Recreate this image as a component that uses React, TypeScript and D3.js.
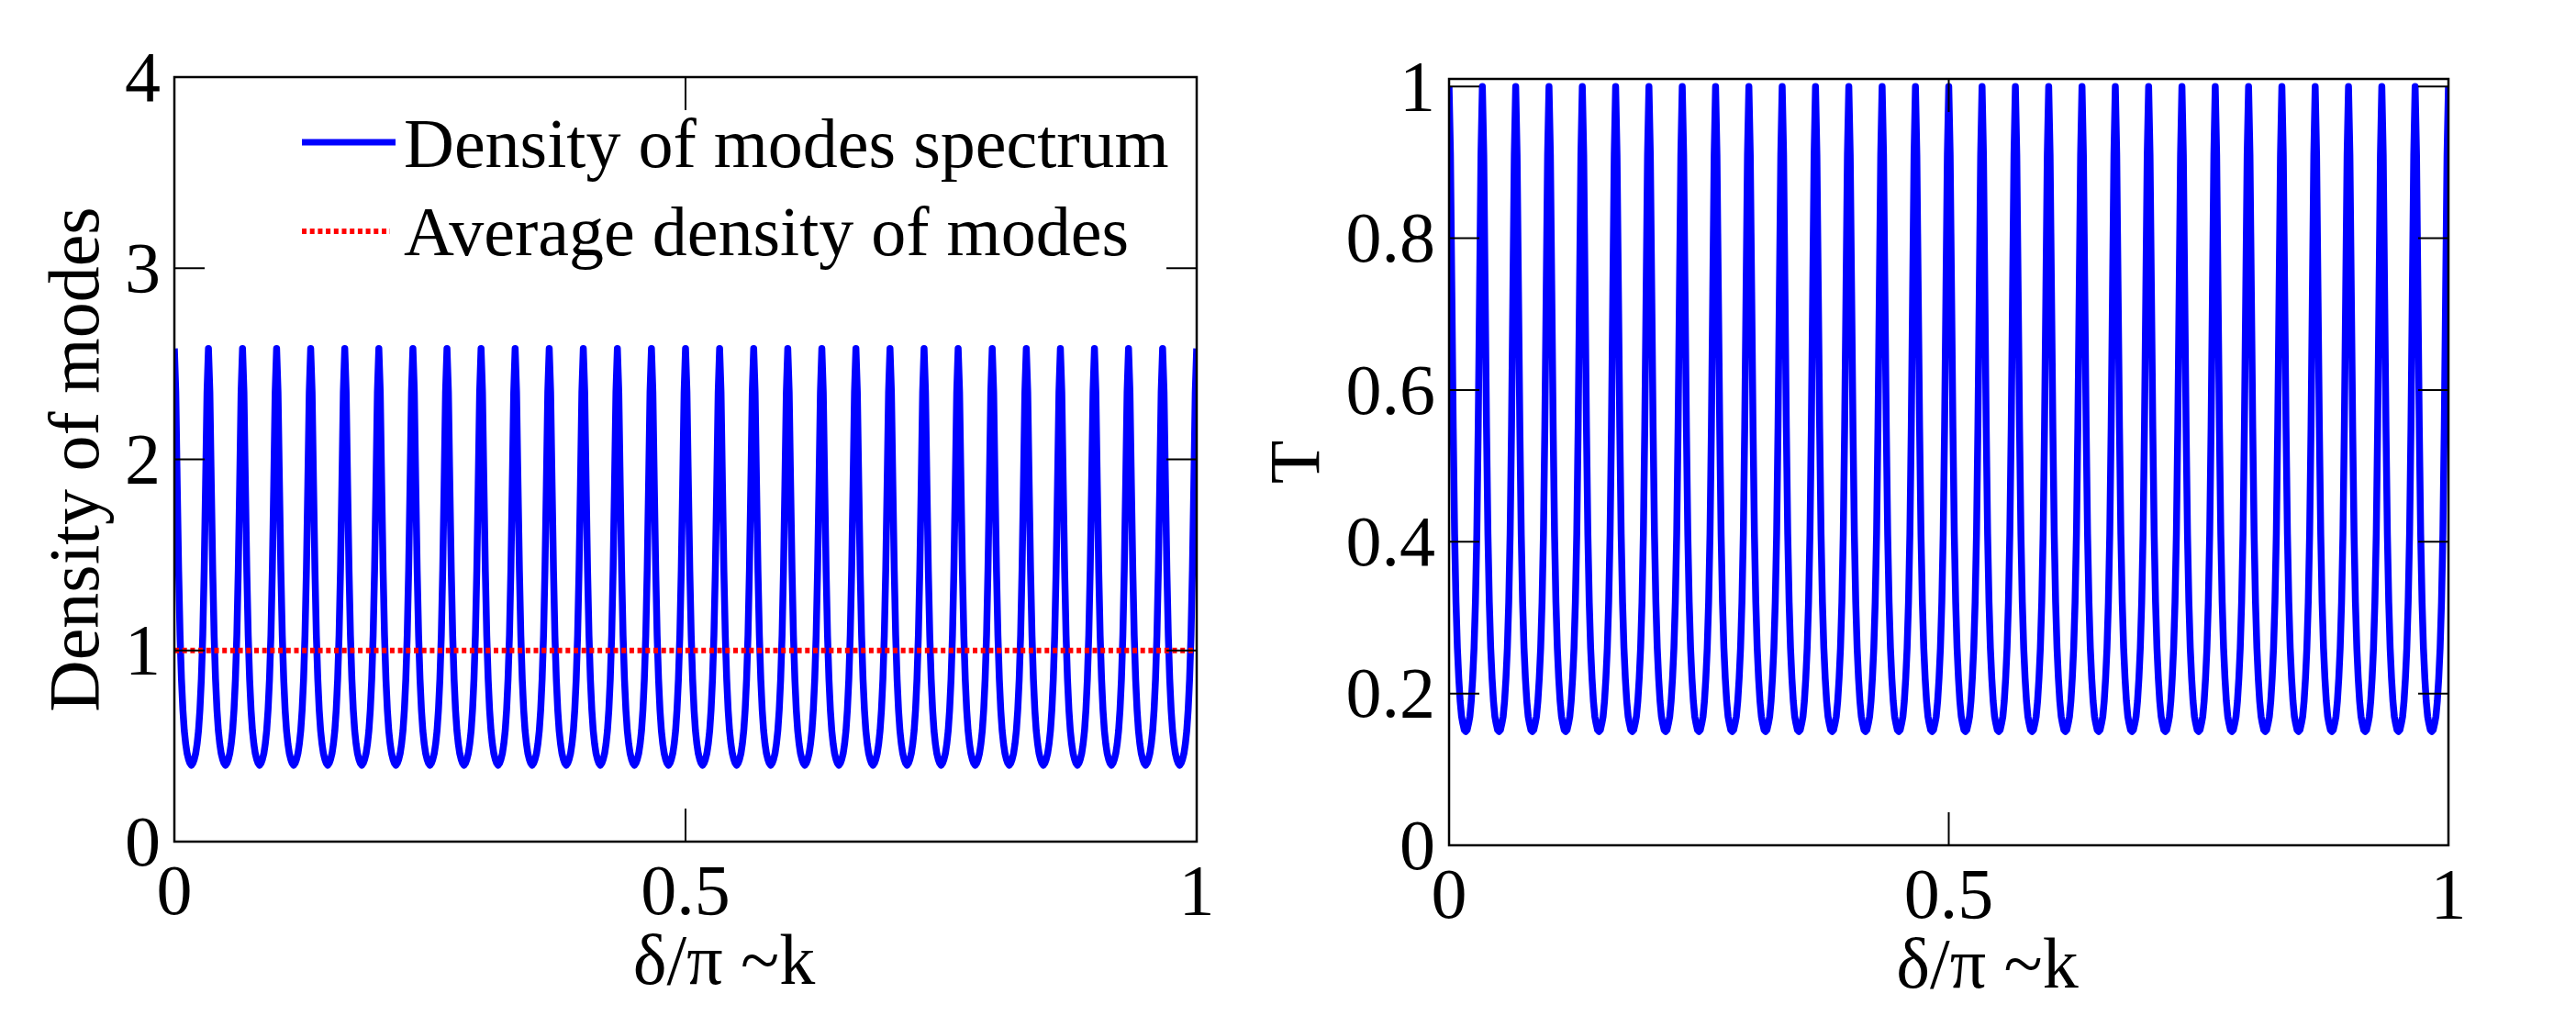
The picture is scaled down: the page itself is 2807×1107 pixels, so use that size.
import React, { useEffect, useRef } from 'react';
import * as d3 from 'd3';

// one period of each spectrum (peak first, 24 samples per period)
const periods = 30;
const densityProfile = [
  2.58, 2.35, 1.87, 1.42, 1.08, 0.85, 0.69, 0.58, 0.51, 0.46, 0.43, 0.41,
  0.40, 0.41, 0.43, 0.46, 0.51, 0.58, 0.69, 0.85, 1.08, 1.42, 1.87, 2.35,
];
const transmissionProfile = [
  1.0, 0.91, 0.73, 0.55, 0.41, 0.32, 0.26, 0.22, 0.19, 0.17, 0.16, 0.152,
  0.15, 0.152, 0.16, 0.17, 0.19, 0.22, 0.26, 0.32, 0.41, 0.55, 0.73, 0.91,
];
const averageDensity = [
  { x: 0, y: 1 },
  { x: 1, y: 1 },
];

const xTicks = [0, 0.5, 1];
const xTickLabels = ['0', '0.5', '1'];
const densityTicks = [0, 1, 2, 3, 4];
const densityTickLabels = ['0', '1', '2', '3', '4'];
const transmissionTicks = [0, 0.2, 0.4, 0.6, 0.8, 1];
const transmissionTickLabels = ['0', '0.2', '0.4', '0.6', '0.8', '1'];
const legendLabels = ['Density of modes spectrum', 'Average density of modes'];
const xLabel = 'δ/π ~k';

interface Pt {
  x: number;
  y: number;
}

const tile = (profile: number[]): Pt[] => {
  const pts: Pt[] = [];
  const n = profile.length;
  for (let k = 0; k < periods; k++) {
    profile.forEach((v, i) => pts.push({ x: (k + i / n) / periods, y: v }));
  }
  pts.push({ x: 1, y: profile[0] });
  return pts;
};

const FONT = '"Liberation Serif", "Times New Roman", serif';

const App: React.FC = () => {
  const svgRef = useRef<SVGSVGElement>(null);

  useEffect(() => {
    if (!svgRef.current) return;
    const svg = d3.select(svgRef.current);
    svg.selectAll('*').remove();

    const panels = [
      {
        id: 'dos',
        left: 190, right: 1304, top: 84, bottom: 917,
        yDomain: [0, 4],
        yTicks: densityTicks, yTickLabels: densityTickLabels,
        data: tile(densityProfile),
        yLabel: 'Density of modes', yLabelX: 107,
      },
      {
        id: 'trans',
        left: 1579, right: 2668, top: 86, bottom: 921,
        yDomain: [0, 1.01],
        yTicks: transmissionTicks, yTickLabels: transmissionTickLabels,
        data: tile(transmissionProfile),
        yLabel: 'T', yLabelX: 1437,
      },
    ];

    const defs = svg.append('defs');

    panels.forEach((p, pi) => {
      const x = d3.scaleLinear().domain([0, 1]).range([p.left, p.right]);
      const y = d3.scaleLinear().domain(p.yDomain).range([p.bottom, p.top]);
      const g = svg.append('g');

      defs.append('clipPath').attr('id', `clip-${p.id}`)
        .append('rect')
        .attr('x', p.left).attr('y', p.top)
        .attr('width', p.right - p.left).attr('height', p.bottom - p.top);

      const line = d3.line<Pt>().x(d => x(d.x)).y(d => y(d.y));

      const plot = g.append('g').attr('clip-path', `url(#clip-${p.id})`);

      plot.append('path')
        .datum(p.data)
        .attr('fill', 'none')
        .attr('stroke', '#0000ff')
        .attr('stroke-width', 7.5)
        .attr('stroke-linejoin', 'round')
        .attr('d', line);

      if (pi === 0) {
        plot.append('path')
          .datum(averageDensity)
          .attr('fill', 'none')
          .attr('stroke', '#ff0000')
          .attr('stroke-width', 6)
          .attr('stroke-dasharray', '5,3.7')
          .attr('d', line);
      }

      // box
      g.append('rect')
        .attr('x', p.left).attr('y', p.top)
        .attr('width', p.right - p.left).attr('height', p.bottom - p.top)
        .attr('fill', 'none')
        .attr('stroke', '#000')
        .attr('stroke-width', 2.5);

      // ticks, inward on all four sides
      p.yTicks.forEach(t => {
        g.append('line').attr('x1', p.left).attr('x2', p.left + 33)
          .attr('y1', y(t)).attr('y2', y(t)).attr('stroke', '#000').attr('stroke-width', 2);
        g.append('line').attr('x1', p.right).attr('x2', p.right - 33)
          .attr('y1', y(t)).attr('y2', y(t)).attr('stroke', '#000').attr('stroke-width', 2);
      });
      xTicks.forEach(t => {
        g.append('line').attr('x1', x(t)).attr('x2', x(t))
          .attr('y1', p.bottom).attr('y2', p.bottom - 36).attr('stroke', '#000').attr('stroke-width', 2);
        g.append('line').attr('x1', x(t)).attr('x2', x(t))
          .attr('y1', p.top).attr('y2', p.top + 36).attr('stroke', '#000').attr('stroke-width', 2);
      });

      // tick labels
      g.selectAll('.ytl')
        .data(p.yTicks)
        .enter()
        .append('text')
        .attr('x', p.left - 15)
        .attr('y', d => y(d))
        .attr('dy', '0.33em')
        .attr('text-anchor', 'end')
        .attr('font-family', FONT)
        .attr('font-size', 78)
        .text((_, i) => p.yTickLabels[i]);

      g.selectAll('.xtl')
        .data(xTicks)
        .enter()
        .append('text')
        .attr('x', d => x(d))
        .attr('y', p.bottom + 79)
        .attr('text-anchor', 'middle')
        .attr('font-family', FONT)
        .attr('font-size', 78)
        .text((_, i) => xTickLabels[i]);

      // axis labels
      g.append('text')
        .attr('x', (p.left + p.right) / 2 + 42)
        .attr('y', p.bottom + 155)
        .attr('text-anchor', 'middle')
        .attr('font-family', FONT)
        .attr('font-size', 78)
        .text(xLabel);

      const cy = (p.top + p.bottom) / 2;
      g.append('text')
        .attr('transform', `translate(${p.yLabelX},${cy}) rotate(-90)`)
        .attr('text-anchor', 'middle')
        .attr('font-family', FONT)
        .attr('font-size', 78)
        .text(p.yLabel);
    });

    // legend (left panel, no box)
    const legend = svg.append('g');
    const rows = [
      { label: legendLabels[0], color: '#0000ff', width: 7, dash: null as string | null, x2: 431, ly: 155, ty: 182 },
      { label: legendLabels[1], color: '#ff0000', width: 6, dash: '5,3.7', x2: 425, ly: 252, ty: 278 },
    ];
    rows.forEach(r => {
      legend.append('line')
        .attr('x1', 329).attr('x2', r.x2)
        .attr('y1', r.ly).attr('y2', r.ly)
        .attr('stroke', r.color)
        .attr('stroke-width', r.width)
        .attr('stroke-dasharray', r.dash);
      legend.append('text')
        .attr('x', 440).attr('y', r.ty)
        .attr('font-family', FONT)
        .attr('font-size', 76)
        .text(r.label);
    });
  }, []);

  return (
    <div style={{ position: 'absolute', left: 0, top: 0 }}>
      <svg ref={svgRef} width={2807} height={1107} style={{ display: 'block', background: '#fff' }} />
    </div>
  );
};

export default App;
